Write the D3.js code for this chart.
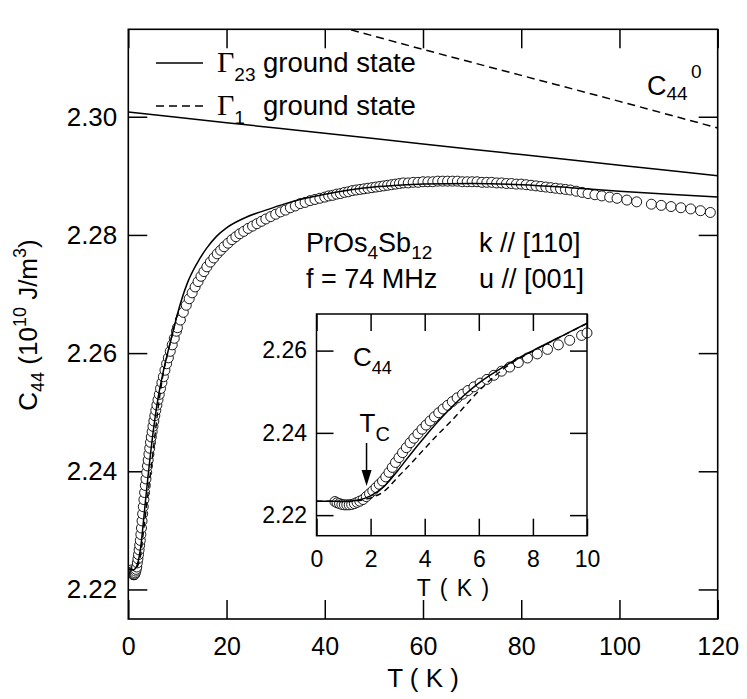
<!DOCTYPE html>
<html>
<head>
<meta charset="utf-8">
<script src="https://cdn.jsdelivr.net/npm/d3@7"></script>
<style>
  body { margin: 0; background: #fff; }
</style>
</head>
<body>
<div id="chart"></div>
<script>
// measured elastic constant C44 (T in K, C44 in 10^10 J/m^3)
const dataT = [0.68, 0.76, 0.85, 0.94, 1.03, 1.12, 1.21, 1.30, 1.40, 1.50, 1.60, 1.72, 1.84, 1.96, 2.08, 2.20,
  2.32, 2.44, 2.56, 2.68, 2.80, 2.92, 3.05, 3.18, 3.32, 3.46, 3.60, 3.75, 3.90, 4.05, 4.20, 4.36, 4.52, 4.68,
  4.85, 5.02, 5.20, 5.40, 5.60, 5.82, 6.05, 6.30, 6.56, 6.84, 7.14, 7.46, 7.80, 8.16, 8.54, 8.94, 9.36, 9.80,
  10.0, 10.6, 11.2, 11.8, 12.4, 13.0, 13.6, 14.2, 14.8, 15.4, 16.0, 16.7, 17.4, 18.1, 18.8, 19.5, 20.3, 21.1,
  21.9, 22.7, 23.5, 24.4, 25.3, 26.2, 27.1, 28.0, 29.0, 30.0, 31.0, 32.0, 33.0, 34.0, 35.0, 36.0, 37.0, 38.0,
  39.0, 40.0, 40.8, 41.6, 42.4, 43.2, 44.0, 44.8, 45.6, 46.4, 47.2, 48.0, 48.8, 49.6, 50.4, 51.2, 52.0, 52.8,
  53.6, 54.4, 55.2, 56.0, 57, 58, 59, 60, 61, 62, 63, 64, 65, 66, 67, 68, 69, 70, 71, 72, 73, 74, 75, 76, 77,
  78, 79, 80, 81, 82, 83, 84, 85, 86, 87, 88, 89, 90, 91.2, 92.4, 93.6, 95.0, 96.4, 98.0, 99.5, 101.5, 103.5,
  106.5, 108.5, 110.5, 112.5, 114.5, 116.5, 118.5];
const dataC = [2.2233, 2.2230, 2.2228, 2.2226, 2.2225, 2.2225, 2.2225, 2.2226, 2.2228, 2.2231, 2.2234, 2.2238,
  2.2245, 2.2252, 2.2259, 2.2267, 2.2275, 2.2283, 2.2293, 2.2304, 2.2316, 2.2328, 2.2340, 2.2352, 2.2364,
  2.2376, 2.2387, 2.2398, 2.2409, 2.2419, 2.2429, 2.2439, 2.2449, 2.2458, 2.2467, 2.2476, 2.2485, 2.2494,
  2.2503, 2.2512, 2.2521, 2.2530, 2.2540, 2.2550, 2.2560, 2.2571, 2.2582, 2.2592, 2.2603, 2.2614, 2.2625,
  2.2637, 2.2643, 2.2656, 2.2669, 2.2681, 2.2692, 2.2702, 2.2712, 2.2721, 2.2730, 2.2738, 2.2746, 2.2754,
  2.2761, 2.2768, 2.2774, 2.2780, 2.2786, 2.2792, 2.2797, 2.2802, 2.2806, 2.2811, 2.2815, 2.2819, 2.2823,
  2.2827, 2.2831, 2.2835, 2.2839, 2.2842, 2.2846, 2.2849, 2.2853, 2.2855, 2.2858, 2.2860, 2.2862, 2.2864,
  2.2866, 2.2867, 2.2869, 2.2870, 2.2872, 2.2873, 2.2875, 2.2876, 2.2877, 2.2878, 2.2879, 2.2880, 2.2881,
  2.2882, 2.2883, 2.2884, 2.2885, 2.2886, 2.2887, 2.2888, 2.2888, 2.2889, 2.2889, 2.2890, 2.2890, 2.2890,
  2.2891, 2.2891, 2.2891, 2.2891, 2.2891, 2.2890, 2.2890, 2.2890, 2.2890, 2.2889, 2.2889, 2.2889, 2.2888,
  2.2888, 2.2887, 2.2887, 2.2886, 2.2886, 2.2885, 2.2884, 2.2883, 2.2882, 2.2881, 2.2880, 2.2879, 2.2878,
  2.2877, 2.2876, 2.2874, 2.2872, 2.2870, 2.2868, 2.2866, 2.2864, 2.2862, 2.2859, 2.2856, 2.2852, 2.2850,
  2.2848, 2.2846, 2.2844, 2.2841, 2.2838];

// fit with Gamma23 ground state (solid)
const fitT = [0, 0.5, 1, 1.5, 2, 2.5, 3, 3.5, 4, 4.5, 5, 5.5, 6, 7, 8, 9, 10, 12, 14, 16, 18, 20, 24, 28, 32,
  36, 40, 45, 50, 55, 60, 70, 80, 90, 100, 110, 120];
const fitG23 = [2.2234, 2.2234, 2.2233, 2.2236, 2.2247, 2.2270, 2.2308, 2.2350, 2.2390, 2.2428, 2.2463,
  2.2494, 2.2521, 2.2564, 2.2600, 2.2633, 2.2666, 2.2718, 2.2752, 2.2778, 2.2798, 2.2812, 2.2830, 2.2842,
  2.2853, 2.2862, 2.2869, 2.2876, 2.2881, 2.2884, 2.2886, 2.2887, 2.2885, 2.2880, 2.2874, 2.2869, 2.2864];
// fit with Gamma1 ground state (dashed), low T part
const fitG1T = [0, 0.5, 1, 1.5, 2, 2.5, 3, 3.5, 4, 4.5, 5, 5.5, 6, 6.5, 7, 8, 9, 10];
const fitG1 = [2.2234, 2.2234, 2.2233, 2.2235, 2.2242, 2.2258, 2.2292, 2.2326, 2.2362, 2.2397, 2.2430,
  2.2466, 2.2502, 2.2533, 2.2560, 2.2599, 2.2633, 2.2666];
// background C44^0
const bareT = [0, 20, 40, 60, 80, 100, 120];
const bareG23 = [2.3008, 2.2990, 2.2972, 2.2954, 2.2936, 2.2918, 2.2900];
const bareG1T = [30, 40, 60, 80, 100, 120];
const bareG1 = [2.3181, 2.3159, 2.3114, 2.3070, 2.3026, 2.2981];

const xTicks = [0, 20, 40, 60, 80, 100, 120];
const yTicks = [2.22, 2.24, 2.26, 2.28, 2.30];
const insetXTicks = [0, 2, 4, 6, 8, 10];
const insetYTicks = [2.22, 2.24, 2.26];
const TC = 1.85;

const W = 747, H = 699;
const font = "'Liberation Sans', Arial, Helvetica, sans-serif";

const svg = d3.select("#chart").append("svg")
  .attr("width", W)
  .attr("height", H)
  .style("font-family", font);

// main panel
const main = { l: 128.3, r: 717.7, t: 29.3, b: 619 };
const x = d3.scaleLinear().domain([0, 120]).range([main.l, main.r]);
const y = d3.scaleLinear().domain([2.215, 2.3148]).range([main.b, main.t]);

svg.append("clipPath").attr("id", "clipMain")
  .append("rect")
  .attr("x", main.l).attr("y", main.t)
  .attr("width", main.r - main.l).attr("height", main.b - main.t);

//style an axis group
function styleAxis(g, size) {
  g.select(".domain").remove();
  g.attr("font-family", font).attr("font-size", size);
  g.selectAll(".tick line").attr("stroke-width", 1.5);
  g.selectAll(".tick text").attr("fill", "#000");
}

svg.append("g")
  .attr("transform", `translate(0,${main.b})`)
  .call(d3.axisBottom(x).tickValues(xTicks).tickSize(-19).tickPadding(18).tickFormat(d3.format("d")))
  .call(g => styleAxis(g, 25));
svg.append("g")
  .attr("transform", `translate(0,${main.t})`)
  .call(d3.axisTop(x).tickValues(xTicks).tickSize(-19).tickFormat(""))
  .call(g => styleAxis(g, 25));
svg.append("g")
  .attr("transform", `translate(${main.l},0)`)
  .call(d3.axisLeft(y).tickValues(yTicks).tickSize(-19).tickPadding(11).tickFormat(d3.format(".2f")))
  .call(g => styleAxis(g, 26));
svg.append("g")
  .attr("transform", `translate(${main.r},0)`)
  .call(d3.axisRight(y).tickValues(yTicks).tickSize(-19).tickFormat(""))
  .call(g => styleAxis(g, 26));

const line = d3.line()
  .x(d => x(d[0]))
  .y(d => y(d[1]))
  .curve(d3.curveMonotoneX);

const mainG = svg.append("g").attr("clip-path", "url(#clipMain)");

// C44^0 backgrounds
mainG.append("path")
  .attr("d", line(d3.zip(bareT, bareG23)))
  .attr("fill", "none").attr("stroke", "#000").attr("stroke-width", 1.5);
mainG.append("path")
  .attr("d", line(d3.zip(bareG1T, bareG1)))
  .attr("fill", "none").attr("stroke", "#000").attr("stroke-width", 1.5)
  .attr("stroke-dasharray", "8,5");

// data points
mainG.append("g")
  .selectAll("circle")
  .data(d3.zip(dataT, dataC))
  .join("circle")
  .attr("cx", d => x(d[0]))
  .attr("cy", d => y(d[1]))
  .attr("r", 5)
  .attr("fill", "#fff")
  .attr("stroke", "#000")
  .attr("stroke-width", 0.9);

// fits on top
mainG.append("path")
  .attr("d", line(d3.zip(fitG1T, fitG1)))
  .attr("fill", "none").attr("stroke", "#000").attr("stroke-width", 1.4)
  .attr("stroke-dasharray", "6,4");
mainG.append("path")
  .attr("d", line(d3.zip(fitT, fitG23)))
  .attr("fill", "none").attr("stroke", "#000").attr("stroke-width", 1.5);

svg.append("rect")
  .attr("x", main.l).attr("y", main.t)
  .attr("width", main.r - main.l).attr("height", main.b - main.t)
  .attr("fill", "none").attr("stroke", "#000").attr("stroke-width", 1.6);

// axis titles
svg.append("text")
  .attr("x", (main.l + main.r) / 2).attr("y", 687)
  .attr("text-anchor", "middle").attr("font-size", 26)
  .text("T ( K )");

const yl = svg.append("text")
  .attr("transform", "translate(37,325) rotate(-90)")
  .attr("text-anchor", "middle").attr("font-size", 26);
yl.append("tspan").text("C");
yl.append("tspan").attr("dy", 7).attr("font-size", 18).text("44");
yl.append("tspan").attr("dy", -7).text(" (10");
yl.append("tspan").attr("dy", -11).attr("font-size", 18).text("10");
yl.append("tspan").attr("dy", 11).text(" J/m");
yl.append("tspan").attr("dy", -11).attr("font-size", 18).text("3");
yl.append("tspan").attr("dy", 11).text(")");

// legend
const legend = [
  { sub: "23", y: 63, dash: null },
  { sub: "1", y: 106, dash: "8,5" }
];
legend.forEach(d => {
  svg.append("line")
    .attr("x1", 156).attr("x2", 203)
    .attr("y1", d.y).attr("y2", d.y)
    .attr("stroke", "#000").attr("stroke-width", 1.5)
    .attr("stroke-dasharray", d.dash);
  const t = svg.append("text").attr("x", 217).attr("y", d.y + 9).attr("font-size", 27);
  t.append("tspan").attr("font-family", "'Liberation Serif', 'Times New Roman', serif")
    .attr("font-size", 30).text("\u0393");
  t.append("tspan").attr("dy", 9).attr("font-size", 19).text(d.sub);
  svg.append("text").attr("x", 263).attr("y", d.y + 9).attr("font-size", 27.5).text("ground state");
});

// C44^0 label
const c0 = svg.append("text").attr("x", 647).attr("y", 95).attr("font-size", 27);
c0.append("tspan").text("C");
c0.append("tspan").attr("dy", 5).attr("font-size", 19).text("44");
svg.append("text").attr("x", 691).attr("y", 78).attr("font-size", 19).text("0");

// sample info
const s1 = svg.append("text").attr("x", 306).attr("y", 252).attr("font-size", 27);
s1.append("tspan").text("PrOs");
s1.append("tspan").attr("dy", 7).attr("font-size", 19).text("4");
s1.append("tspan").attr("dy", -7).text("Sb");
s1.append("tspan").attr("dy", 7).attr("font-size", 19).text("12");
svg.append("text").attr("x", 306).attr("y", 288).attr("font-size", 27).text("f = 74 MHz");
svg.append("text").attr("x", 479).attr("y", 252).attr("font-size", 27).text("k // [110]");
svg.append("text").attr("x", 479).attr("y", 288).attr("font-size", 27).text("u // [001]");

// inset panel
const ins = { l: 316.5, r: 587, t: 314, b: 535.7 };
const xi = d3.scaleLinear().domain([0, 10]).range([ins.l, ins.r]);
const yi = d3.scaleLinear().domain([2.215, 2.2689]).range([ins.b, ins.t]);

svg.append("rect")
  .attr("x", ins.l).attr("y", ins.t)
  .attr("width", ins.r - ins.l).attr("height", ins.b - ins.t)
  .attr("fill", "#fff");

svg.append("clipPath").attr("id", "clipInset")
  .append("rect")
  .attr("x", ins.l).attr("y", ins.t)
  .attr("width", ins.r - ins.l).attr("height", ins.b - ins.t);

svg.append("g")
  .attr("transform", `translate(0,${ins.b})`)
  .call(d3.axisBottom(xi).tickValues(insetXTicks).tickSize(-17).tickPadding(15).tickFormat(d3.format("d")))
  .call(g => styleAxis(g, 23));
svg.append("g")
  .attr("transform", `translate(0,${ins.t})`)
  .call(d3.axisTop(xi).tickValues(insetXTicks).tickSize(-17).tickFormat(""))
  .call(g => styleAxis(g, 23));
svg.append("g")
  .attr("transform", `translate(${ins.l},0)`)
  .call(d3.axisLeft(yi).tickValues(insetYTicks).tickSize(-17).tickPadding(9.5).tickFormat(d3.format(".2f")))
  .call(g => styleAxis(g, 23));
svg.append("g")
  .attr("transform", `translate(${ins.r},0)`)
  .call(d3.axisRight(yi).tickValues(insetYTicks).tickSize(-17).tickFormat(""))
  .call(g => styleAxis(g, 23));

const lineI = d3.line()
  .x(d => xi(d[0]))
  .y(d => yi(d[1]))
  .curve(d3.curveMonotoneX);

svg.append("g")
  .selectAll("circle")
  .data(d3.zip(dataT, dataC).filter(d => d[0] <= 10))
  .join("circle")
  .attr("cx", d => xi(d[0]))
  .attr("cy", d => yi(d[1]))
  .attr("r", 5)
  .attr("fill", "#fff")
  .attr("stroke", "#000")
  .attr("stroke-width", 0.9);

const insG = svg.append("g").attr("clip-path", "url(#clipInset)");
insG.append("path")
  .attr("d", lineI(d3.zip(fitG1T, fitG1)))
  .attr("fill", "none").attr("stroke", "#000").attr("stroke-width", 1.4)
  .attr("stroke-dasharray", "6,4");
insG.append("path")
  .attr("d", lineI(d3.zip(fitT, fitG23)))
  .attr("fill", "none").attr("stroke", "#000").attr("stroke-width", 1.5);

svg.append("rect")
  .attr("x", ins.l).attr("y", ins.t)
  .attr("width", ins.r - ins.l).attr("height", ins.b - ins.t)
  .attr("fill", "none").attr("stroke", "#000").attr("stroke-width", 1.5);

svg.append("text")
  .attr("x", (ins.l + ins.r) / 2 + 2).attr("y", 596)
  .attr("text-anchor", "middle").attr("font-size", 23)
  .attr("letter-spacing", 1.5)
  .text("T ( K )");

const ci = svg.append("text").attr("x", 353).attr("y", 366).attr("font-size", 26);
ci.append("tspan").text("C");
ci.append("tspan").attr("dy", 8).attr("font-size", 18).text("44");

// Tc marker
const tcx = xi(TC);
const tc = svg.append("text").attr("x", tcx - 7).attr("y", 432).attr("font-size", 26);
tc.append("tspan").text("T");
tc.append("tspan").attr("dy", 9).attr("font-size", 20).text("C");
svg.append("line")
  .attr("x1", tcx).attr("x2", tcx)
  .attr("y1", 443).attr("y2", 472)
  .attr("stroke", "#000").attr("stroke-width", 1.5);
svg.append("path")
  .attr("d", `M${tcx - 5},470 L${tcx + 5},470 L${tcx},486 Z`)
  .attr("fill", "#000");
</script>
</body>
</html>
